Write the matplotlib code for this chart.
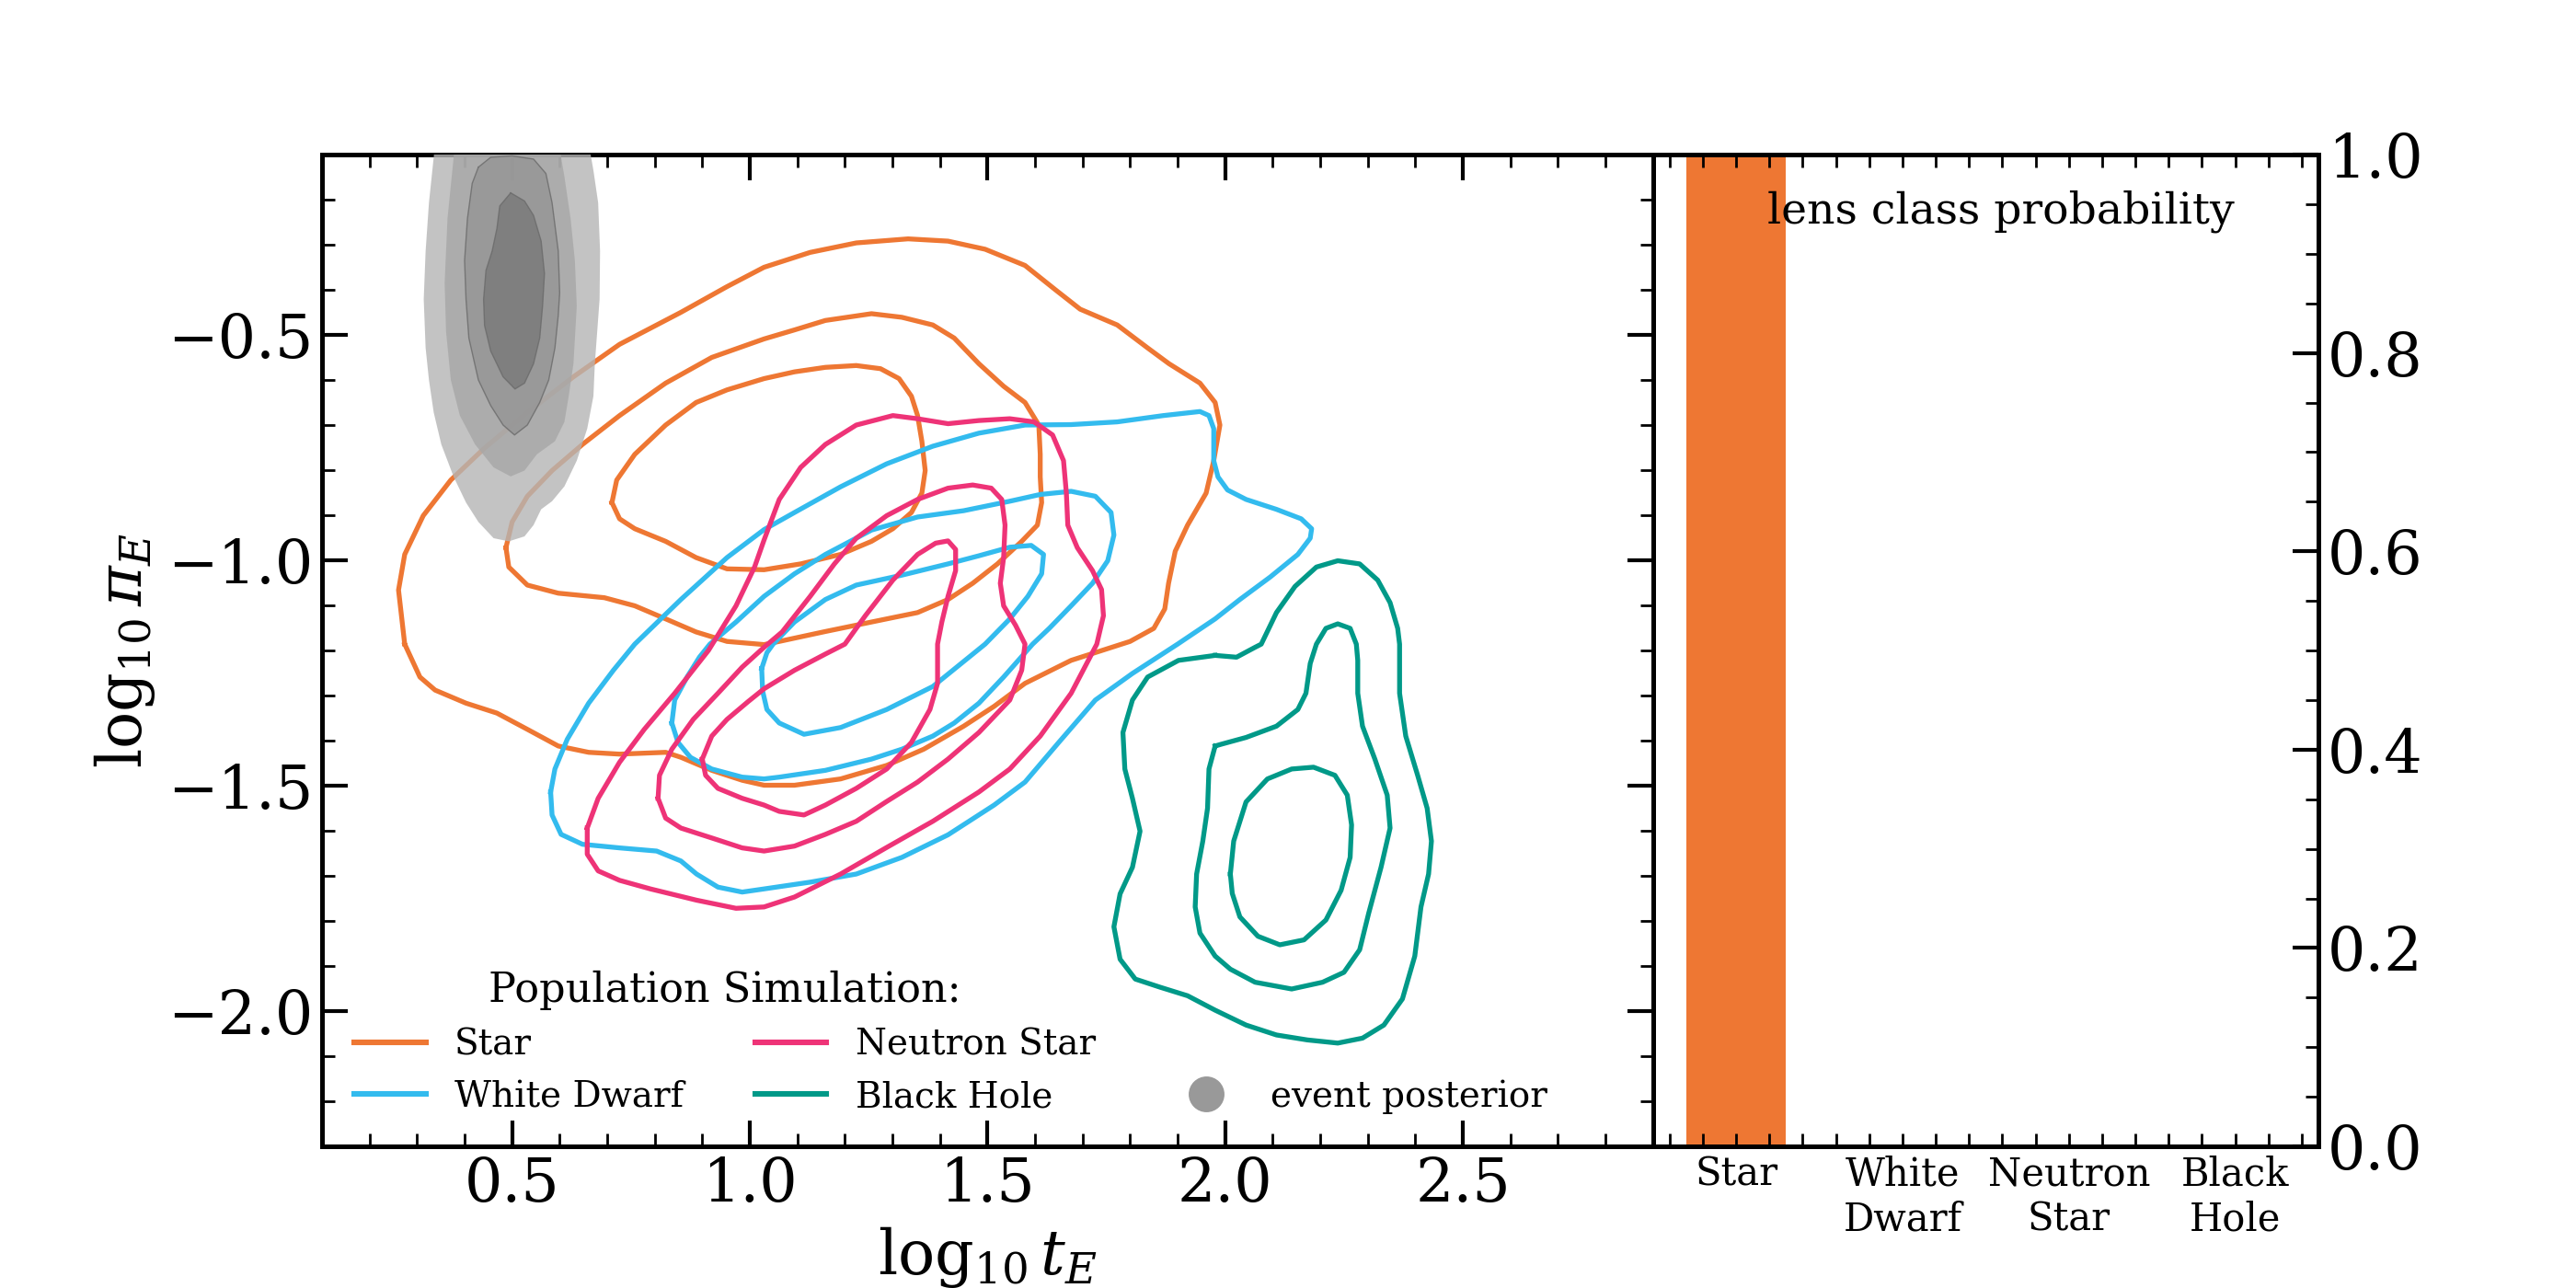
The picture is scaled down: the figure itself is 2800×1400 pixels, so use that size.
import numpy as np
import matplotlib
matplotlib.use('Agg')
import matplotlib.pyplot as plt
from matplotlib.ticker import MultipleLocator
from matplotlib.lines import Line2D

plt.rcParams['font.family'] = 'DejaVu Serif'
plt.rcParams['mathtext.fontset'] = 'dejavuserif'

classes = ['Star', 'White Dwarf', 'Neutron Star', 'Black Hole']
class_colors = ['#EE7733', '#33BBEE', '#EE3377', '#009988']
bar_labels = ['Star', 'White\nDwarf', 'Neutron\nStar', 'Black\nHole']
lens_prob = [1.0, 0.0, 0.0, 0.0]

# contour outlines (log10 tE, log10 piE)
star_outer = [(0.274,-1.186),(0.261,-1.066),(0.274,-0.987),(0.313,-0.901),(0.371,-0.822),(0.442,-0.751),
              (0.532,-0.672),(0.629,-0.593),(0.726,-0.521),(0.855,-0.450),(0.952,-0.393),(1.030,-0.350),
              (1.127,-0.317),(1.224,-0.296),(1.333,-0.287),(1.417,-0.292),(1.495,-0.310),(1.579,-0.346),
              (1.643,-0.400),(1.695,-0.443),(1.773,-0.478),(1.837,-0.529),(1.882,-0.564),(1.947,-0.607),
              (1.979,-0.650),(1.989,-0.700),(1.976,-0.779),(1.960,-0.851),(1.921,-0.922),(1.895,-0.980),
              (1.881,-1.051),(1.873,-1.108),(1.850,-1.151),(1.800,-1.180),(1.676,-1.222),(1.579,-1.273),
              (1.514,-1.324),(1.450,-1.368),(1.366,-1.419),(1.288,-1.455),(1.191,-1.485),(1.094,-1.499),
              (1.030,-1.499),(0.984,-1.488),(0.920,-1.466),(0.855,-1.437),(0.823,-1.426),(0.726,-1.430),
              (0.661,-1.426),(0.597,-1.412),(0.532,-1.375),(0.468,-1.339),(0.403,-1.317),(0.338,-1.288),
              (0.306,-1.259)]
star_mid = [(0.487,-0.972),(0.500,-0.915),(0.532,-0.858),(0.584,-0.801),(0.648,-0.743),(0.726,-0.679),
            (0.823,-0.607),(0.920,-0.550),(1.030,-0.509),(1.094,-0.489),(1.159,-0.468),(1.256,-0.453),
            (1.320,-0.461),(1.385,-0.478),(1.430,-0.507),(1.482,-0.564),(1.534,-0.614),(1.579,-0.650),
            (1.608,-0.700),(1.611,-0.765),(1.611,-0.815),(1.614,-0.872),(1.605,-0.922),(1.572,-0.958),
            (1.521,-1.008),(1.469,-1.051),(1.417,-1.087),(1.353,-1.116),(1.288,-1.130),(1.159,-1.158),
            (1.062,-1.180),(1.030,-1.187),(0.952,-1.180),(0.887,-1.159),(0.823,-1.130),(0.758,-1.101),
            (0.694,-1.083),(0.597,-1.073),(0.532,-1.055),(0.493,-1.015)]
star_in = [(0.710,-0.872),(0.720,-0.822),(0.758,-0.765),(0.823,-0.700),(0.887,-0.650),(0.952,-0.622),
           (1.030,-0.597),(1.094,-0.582),(1.159,-0.572),(1.224,-0.568),(1.275,-0.575),(1.314,-0.597),
           (1.340,-0.636),(1.353,-0.679),(1.362,-0.736),(1.369,-0.801),(1.362,-0.851),(1.340,-0.894),
           (1.301,-0.930),(1.256,-0.958),(1.191,-0.987),(1.107,-1.008),(1.030,-1.021),(0.952,-1.019),
           (0.887,-0.994),(0.823,-0.958),(0.758,-0.930),(0.726,-0.908)]

wd_outer = [(0.581,-1.514),(0.590,-1.463),(0.616,-1.397),(0.661,-1.317),(0.713,-1.244),(0.758,-1.186),
            (0.855,-1.087),(0.952,-0.994),(1.030,-0.932),(1.094,-0.894),(1.191,-0.837),(1.288,-0.786),
            (1.385,-0.747),(1.482,-0.718),(1.579,-0.700),(1.676,-0.699),(1.773,-0.693),(1.870,-0.679),
            (1.947,-0.670),(1.966,-0.679),(1.976,-0.708),(1.976,-0.779),(1.985,-0.815),(2.005,-0.844),
            (2.044,-0.865),(2.108,-0.887),(2.160,-0.908),(2.182,-0.930),(2.179,-0.951),(2.153,-0.987),
            (2.095,-1.037),(2.031,-1.087),(1.979,-1.130),(1.900,-1.186),(1.805,-1.251),(1.727,-1.310),
            (1.650,-1.404),(1.579,-1.492),(1.514,-1.543),(1.417,-1.609),(1.320,-1.659),(1.224,-1.696),
            (1.127,-1.714),(1.030,-1.729),(0.984,-1.736),(0.933,-1.725),(0.888,-1.696),(0.855,-1.667),
            (0.804,-1.645),(0.726,-1.638),(0.648,-1.630),(0.603,-1.608),(0.584,-1.565)]
wd_mid = [(0.836,-1.361),(0.842,-1.310),(0.868,-1.259),(0.894,-1.215),(0.916,-1.186),(0.971,-1.137),
          (1.030,-1.080),(1.094,-1.030),(1.159,-0.987),(1.256,-0.933),(1.353,-0.904),(1.450,-0.890),
          (1.547,-0.869),(1.611,-0.854),(1.676,-0.847),(1.727,-0.858),(1.760,-0.894),(1.766,-0.944),
          (1.753,-1.001),(1.721,-1.051),(1.676,-1.101),(1.630,-1.151),(1.595,-1.186),(1.534,-1.259),
          (1.482,-1.317),(1.430,-1.361),(1.385,-1.390),(1.320,-1.419),(1.256,-1.441),(1.159,-1.466),
          (1.062,-1.481),(1.030,-1.485),(0.984,-1.481),(0.920,-1.463),(0.875,-1.437),(0.849,-1.404)]
wd_in = [(1.025,-1.240),(1.036,-1.205),(1.049,-1.186),(1.094,-1.137),(1.159,-1.087),(1.224,-1.055),
         (1.320,-1.033),(1.417,-1.008),(1.482,-0.990),(1.547,-0.971),(1.592,-0.967),(1.618,-0.987),
         (1.614,-1.030),(1.585,-1.080),(1.547,-1.130),(1.495,-1.186),(1.385,-1.280),(1.288,-1.331),
         (1.191,-1.371),(1.114,-1.386),(1.062,-1.361),(1.036,-1.331),(1.027,-1.290)]

ns_outer = [(0.658,-1.594),(0.681,-1.528),(0.726,-1.448),(0.778,-1.375),(0.842,-1.295),(0.913,-1.200),
            (0.971,-1.101),(1.010,-1.015),(1.030,-0.955),(1.062,-0.865),(1.107,-0.794),(1.159,-0.743),
            (1.224,-0.700),(1.301,-0.679),(1.353,-0.686),(1.417,-0.697),(1.482,-0.690),(1.547,-0.686),
            (1.598,-0.693),(1.637,-0.722),(1.660,-0.779),(1.666,-0.851),(1.669,-0.922),(1.689,-0.972),
            (1.721,-1.023),(1.740,-1.065),(1.744,-1.123),(1.730,-1.186),(1.676,-1.295),(1.611,-1.390),
            (1.547,-1.463),(1.482,-1.514),(1.385,-1.579),(1.288,-1.637),(1.191,-1.696),(1.094,-1.747),
            (1.030,-1.769),(0.971,-1.772),(0.888,-1.754),(0.791,-1.729),(0.726,-1.710),(0.681,-1.689),
            (0.658,-1.652)]
ns_mid = [(0.807,-1.528),(0.810,-1.477),(0.836,-1.419),(0.881,-1.353),(0.933,-1.295),(0.984,-1.237),
          (1.030,-1.193),(1.068,-1.159),(1.127,-1.080),(1.178,-1.008),(1.224,-0.951),(1.288,-0.901),
          (1.353,-0.865),(1.417,-0.840),(1.469,-0.833),(1.508,-0.840),(1.530,-0.865),(1.537,-0.922),
          (1.534,-0.994),(1.527,-1.051),(1.534,-1.101),(1.559,-1.144),(1.579,-1.186),(1.572,-1.244),
          (1.547,-1.310),(1.482,-1.382),(1.417,-1.441),(1.353,-1.492),(1.288,-1.535),(1.224,-1.579),
          (1.159,-1.608),(1.094,-1.634),(1.030,-1.645),(0.984,-1.638),(0.920,-1.616),(0.855,-1.594),
          (0.823,-1.572)]
ns_in = [(0.900,-1.441),(0.920,-1.390),(0.952,-1.353),(0.997,-1.313),(1.030,-1.285),(1.094,-1.244),
         (1.159,-1.208),(1.200,-1.186),(1.243,-1.123),(1.301,-1.044),(1.353,-0.987),(1.391,-0.962),
         (1.417,-0.957),(1.433,-0.976),(1.433,-1.023),(1.417,-1.080),(1.404,-1.137),(1.395,-1.186),
         (1.395,-1.273),(1.379,-1.331),(1.340,-1.404),(1.288,-1.463),(1.224,-1.506),(1.159,-1.543),
         (1.114,-1.565),(1.062,-1.557),(1.030,-1.543),(0.984,-1.528),(0.933,-1.506),(0.907,-1.477)]

bh_outer = [(1.979,-1.211),(2.024,-1.215),(2.063,-1.193),(2.076,-1.186),(2.108,-1.116),(2.147,-1.058),
            (2.192,-1.015),(2.237,-1.001),(2.283,-1.008),(2.321,-1.044),(2.347,-1.094),(2.363,-1.151),
            (2.367,-1.186),(2.367,-1.295),(2.380,-1.390),(2.405,-1.477),(2.425,-1.550),(2.434,-1.623),
            (2.428,-1.696),(2.412,-1.769),(2.399,-1.878),(2.373,-1.973),(2.334,-2.031),(2.289,-2.060),
            (2.237,-2.071),(2.173,-2.064),(2.108,-2.053),(2.044,-2.031),(1.979,-1.998),(1.921,-1.966),
            (1.863,-1.947),(1.811,-1.929),(1.779,-1.885),(1.766,-1.813),(1.779,-1.740),(1.805,-1.681),
            (1.821,-1.601),(1.805,-1.528),(1.789,-1.463),(1.785,-1.382),(1.805,-1.310),(1.837,-1.259),
            (1.902,-1.222)]
bh_mid = [(1.979,-1.412),(1.992,-1.408),(2.044,-1.393),(2.108,-1.368),(2.153,-1.331),(2.170,-1.295),
          (2.179,-1.229),(2.192,-1.186),(2.212,-1.151),(2.237,-1.141),(2.263,-1.151),(2.276,-1.186),
          (2.279,-1.222),(2.279,-1.295),(2.289,-1.368),(2.315,-1.441),(2.341,-1.521),(2.347,-1.594),
          (2.328,-1.681),(2.302,-1.783),(2.283,-1.864),(2.250,-1.914),(2.205,-1.936),(2.140,-1.951),
          (2.063,-1.936),(2.011,-1.907),(1.979,-1.878),(1.947,-1.827),(1.937,-1.769),(1.940,-1.696),
          (1.953,-1.623),(1.963,-1.550),(1.966,-1.463)]
bh_in = [(2.011,-1.696),(2.018,-1.623),(2.044,-1.536),(2.089,-1.485),(2.140,-1.463),(2.186,-1.459),
         (2.231,-1.477),(2.257,-1.521),(2.266,-1.587),(2.263,-1.659),(2.244,-1.732),(2.212,-1.798),
         (2.166,-1.842),(2.115,-1.853),(2.069,-1.834),(2.031,-1.791),(2.015,-1.739)]

# event posterior, filled levels from outer to inner
post_1 = [(0.34,-0.05),(0.335,-0.106),(0.325,-0.207),(0.318,-0.314),(0.314,-0.421),(0.318,-0.529),
          (0.325,-0.600),(0.335,-0.672),(0.351,-0.743),(0.377,-0.815),(0.403,-0.872),(0.429,-0.915),
          (0.461,-0.951),(0.493,-0.958),(0.526,-0.947),(0.545,-0.922),(0.561,-0.887),(0.584,-0.869),
          (0.610,-0.836),(0.636,-0.779),(0.658,-0.708),(0.671,-0.636),(0.674,-0.564),(0.684,-0.421),
          (0.685,-0.314),(0.681,-0.207),(0.671,-0.135),(0.665,-0.099),(0.66,-0.05)]
post_2 = [(0.38,-0.05),(0.377,-0.106),(0.364,-0.242),(0.358,-0.385),(0.361,-0.493),(0.371,-0.600),
          (0.390,-0.679),(0.422,-0.743),(0.461,-0.794),(0.497,-0.814),(0.526,-0.801),(0.552,-0.765),
          (0.590,-0.736),(0.610,-0.693),(0.619,-0.636),(0.629,-0.564),(0.636,-0.436),(0.632,-0.335),
          (0.623,-0.242),(0.610,-0.149),(0.603,-0.106),(0.60,-0.05)]
post_3 = [(0.429,-0.128),(0.416,-0.164),(0.406,-0.242),(0.400,-0.335),(0.403,-0.421),(0.409,-0.507),
          (0.429,-0.600),(0.455,-0.657),(0.481,-0.700),(0.505,-0.722),(0.532,-0.700),(0.558,-0.650),
          (0.577,-0.600),(0.590,-0.529),(0.597,-0.457),(0.600,-0.407),(0.597,-0.314),(0.584,-0.207),
          (0.571,-0.142),(0.545,-0.110),(0.500,-0.103),(0.455,-0.106)]
post_4 = [(0.497,-0.185),(0.474,-0.214),(0.468,-0.264),(0.458,-0.314),(0.445,-0.357),(0.440,-0.421),
          (0.442,-0.479),(0.455,-0.536),(0.481,-0.593),(0.506,-0.620),(0.526,-0.607),(0.545,-0.564),
          (0.558,-0.507),(0.564,-0.436),(0.568,-0.364),(0.561,-0.292),(0.545,-0.235),(0.526,-0.203)]
post_colors = ['#b5b5b5', '#a7a7a7', '#959595', '#797979']

class_contours = [[star_outer, star_mid, star_in],
                  [wd_outer, wd_mid, wd_in],
                  [ns_outer, ns_mid, ns_in],
                  [bh_outer, bh_mid, bh_in]]

fig, (ax, axb) = plt.subplots(1, 2, figsize=(14, 7), dpi=200,
                              gridspec_kw={'width_ratios': [2, 1], 'wspace': 0})

handles = []
for name, col, levels in zip(classes, class_colors, class_contours):
    for lev in levels:
        p = np.array(lev + [lev[0]])
        ax.plot(p[:, 0], p[:, 1], color=col, lw=1.9, solid_joinstyle='round', zorder=2)
    handles.append(Line2D([], [], color=col, lw=2.2, label=name))

for k, (poly, col) in enumerate(zip([post_1, post_2, post_3, post_4], post_colors)):
    p = np.array(poly)
    ax.fill(p[:, 0], p[:, 1], color=col, alpha=0.8, lw=0, zorder=3)
    if k >= 2:
        q = np.array(poly + [poly[0]])
        ax.plot(q[:, 0], q[:, 1], color='#6a6a6a', lw=0.5, alpha=0.8, zorder=3)

ax.set_xlim(0.1, 2.9)
ax.set_ylim(-2.3, -0.1)
ax.xaxis.set_major_locator(MultipleLocator(0.5))
ax.xaxis.set_minor_locator(MultipleLocator(0.1))
ax.yaxis.set_major_locator(MultipleLocator(0.5))
ax.yaxis.set_minor_locator(MultipleLocator(0.1))
ax.set_xlabel(r'$\log_{10}t_E$', fontsize=24)
ax.set_ylabel(r'$\log_{10}\pi_E$', fontsize=24)

leg1 = ax.legend(handles=handles, ncol=2, title='Population Simulation:', loc='lower left',
                 frameon=False, fontsize=14, title_fontsize=16)
ax.add_artist(leg1)
post_handle = Line2D([], [], marker='o', ls='none', color='#999999', ms=13, label='event posterior')
ax.legend(handles=[post_handle], loc='lower right', bbox_to_anchor=(0.945, 0.0),
          frameon=False, fontsize=14)

axb.bar(range(len(classes)), lens_prob, width=0.6, color=class_colors[0])
axb.set_xlim(-0.5, 3.5)
axb.set_ylim(0, 1)
axb.set_xticks(range(len(classes)))
axb.set_xticklabels(bar_labels, fontsize=15)
axb.xaxis.set_minor_locator(MultipleLocator(0.2))
axb.yaxis.tick_right()
axb.yaxis.set_major_locator(MultipleLocator(0.2))
axb.yaxis.set_minor_locator(MultipleLocator(0.05))
axb.text(0.523, 0.943, 'lens class probability', transform=axb.transAxes,
         ha='center', va='center', fontsize=17)

for a in (ax, axb):
    for s in a.spines.values():
        s.set_linewidth(1.8)
ax.tick_params(which='both', direction='in', top=True, right=True, labelsize=23.5)
ax.tick_params(which='major', length=10, width=1.5)
ax.tick_params(which='minor', length=5, width=1)
axb.tick_params(axis='y', which='both', direction='in', left=False, right=True, labelsize=23.5)
axb.tick_params(axis='y', which='major', length=10, width=1.5)
axb.tick_params(axis='y', which='minor', length=5, width=1)
axb.tick_params(axis='x', which='both', direction='in', top=True, bottom=True, length=5, width=1)

fig.savefig('out.png', dpi=200)
